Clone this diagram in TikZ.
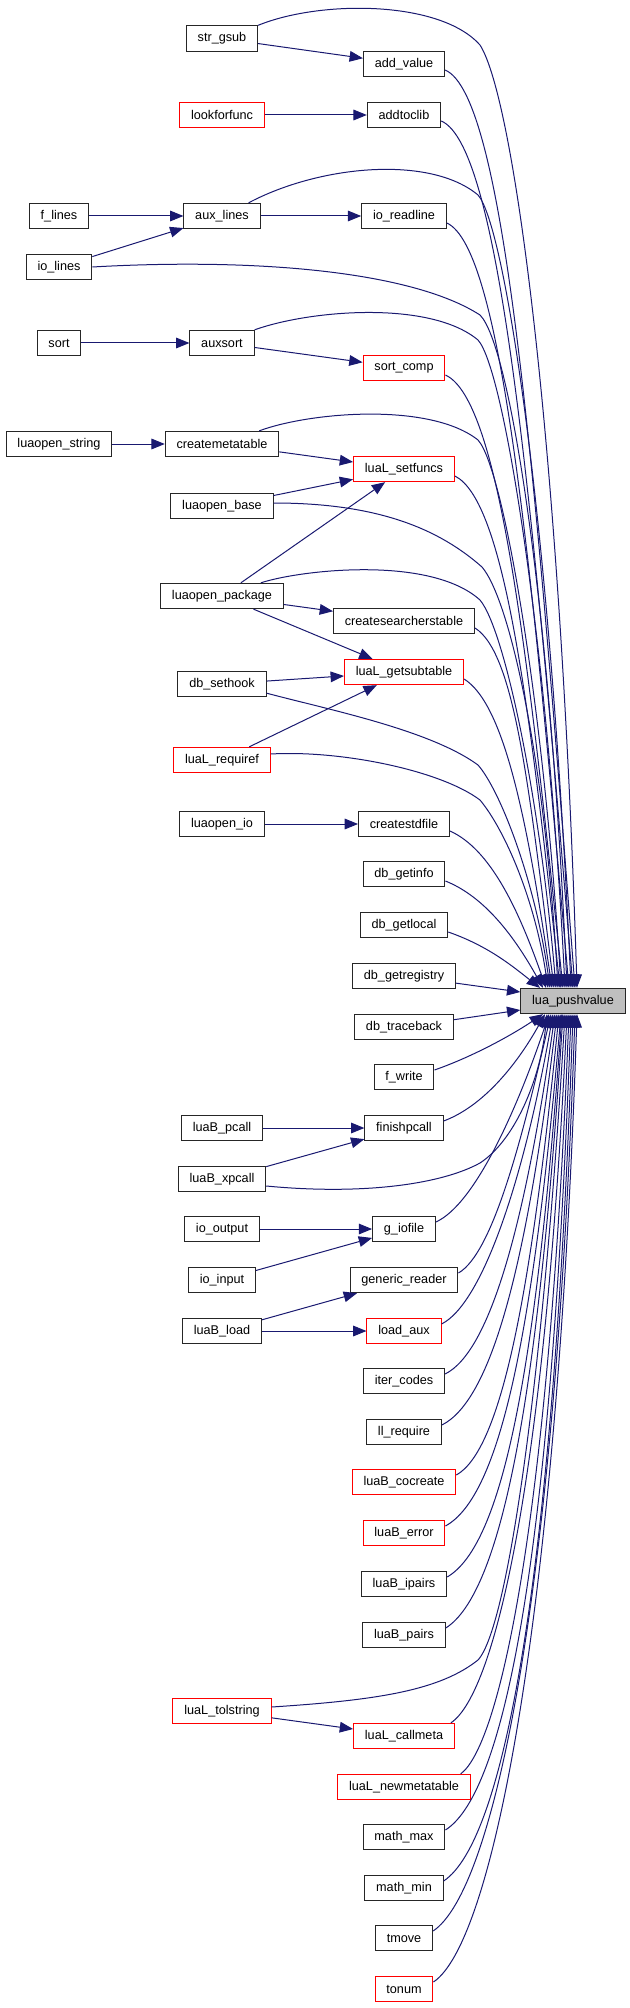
\documentclass[tikz,border=0pt]{standalone}
\usepackage{fontspec}
\setmainfont{Liberation Sans}
\usepackage{tikz}
\usetikzlibrary{arrows.meta,positioning,calc}
\definecolor{edgeblue}{RGB}{25,25,112}
\definecolor{truncred}{RGB}{255,0,0}
\definecolor{focusgray}{RGB}{191,191,191}

\begin{document}
\begin{tikzpicture}[x=0.75pt, y=-0.75pt,
    fn/.style={draw=black!85, line width=0.75pt, minimum height=19pt, inner xsep=8.5pt, inner ysep=0pt, font=\fontsize{9.5}{11}\selectfont},
    trunc/.style={fn, draw=truncred},
    focus/.style={fn, fill=focusgray},
    edge/.style={-{Triangle[length=10pt, width=8pt]}, edgeblue, line width=0.75pt}
]
\useasboundingbox (0,0) rectangle (629,2008);

% callers, left columns
\node[fn] (strgsub) at (222,38.5) {str\_gsub};
\node[fn] (addvalue) at (404,64) {add\_value};
\node[trunc] (lookforfunc) at (222,115) {lookforfunc};
\node[fn] (addtoclib) at (404,115) {addtoclib};
\node[fn] (flines) at (59,216) {f\_lines};
\node[fn] (auxlines) at (222,216) {aux\_lines};
\node[fn] (ioreadline) at (404,216) {io\_readline};
\node[fn] (iolines) at (59,267) {io\_lines};
\node[fn] (sort) at (59,343) {sort};
\node[fn] (auxsort) at (222,343) {auxsort};
\node[trunc] (sortcomp) at (404,368) {sort\_comp};
\node[fn] (openstring) at (59,444) {luaopen\_string};
\node[fn] (createmeta) at (222,444) {createmetatable};
\node[trunc] (setfuncs) at (404,469) {luaL\_setfuncs};
\node[fn] (openbase) at (222,506) {luaopen\_base};
\node[fn] (openpackage) at (222,596) {luaopen\_package};
\node[fn] (searchers) at (404,621) {createsearcherstable};
\node[trunc] (getsubtable) at (404,672) {luaL\_getsubtable};
\node[fn] (sethook) at (222,684) {db\_sethook};
\node[trunc] (requiref) at (222,760) {luaL\_requiref};
\node[fn] (openio) at (222,824) {luaopen\_io};
\node[fn] (stdfile) at (404,824) {createstdfile};
\node[fn] (getinfo) at (404,874) {db\_getinfo};
\node[fn] (getlocal) at (404,925) {db\_getlocal};
\node[fn] (getregistry) at (404,976) {db\_getregistry};
\node[focus] (pushvalue) at (573,1001) {lua\_pushvalue};
\node[fn] (traceback) at (404,1027) {db\_traceback};
\node[fn] (fwrite) at (404,1077) {f\_write};
\node[fn] (pcall) at (222,1128) {luaB\_pcall};
\node[fn] (finishpcall) at (404,1128) {finishpcall};
\node[fn] (xpcall) at (222,1179) {luaB\_xpcall};
\node[fn] (iooutput) at (222,1229) {io\_output};
\node[fn] (iofile) at (404,1229) {g\_iofile};
\node[fn] (ioinput) at (222,1280) {io\_input};
\node[fn] (genreader) at (404,1280) {generic\_reader};
\node[fn] (load) at (222,1331) {luaB\_load};
\node[trunc] (loadaux) at (404,1331) {load\_aux};
\node[fn] (itercodes) at (404,1381) {iter\_codes};
\node[fn] (llrequire) at (404,1432) {ll\_require};
\node[trunc] (cocreate) at (404,1482) {luaB\_cocreate};
\node[trunc] (error) at (404,1533) {luaB\_error};
\node[fn] (ipairs) at (404,1584) {luaB\_ipairs};
\node[fn] (pairs) at (404,1635) {luaB\_pairs};
\node[trunc] (tolstring) at (222,1711) {luaL\_tolstring};
\node[trunc] (callmeta) at (404,1736) {luaL\_callmeta};
\node[trunc] (newmeta) at (404,1787) {luaL\_newmetatable};
\node[fn] (mathmax) at (404,1837) {math\_max};
\node[fn] (mathmin) at (404,1888) {math\_min};
\node[fn] (tmove) at (404,1938) {tmove};
\node[trunc] (tonum) at (404,1989) {tonum};

% short calls between callers
\draw[edge] (strgsub) -- (addvalue);
\draw[edge] (lookforfunc) -- (addtoclib);
\draw[edge] (flines) -- (auxlines);
\draw[edge] (iolines) -- (auxlines);
\draw[edge] (auxlines) -- (ioreadline);
\draw[edge] (sort) -- (auxsort);
\draw[edge] (auxsort) -- (sortcomp);
\draw[edge] (openstring) -- (createmeta);
\draw[edge] (createmeta) -- (setfuncs);
\draw[edge] (openbase) -- (setfuncs);
\draw[edge] (openpackage) -- (setfuncs);
\draw[edge] (openpackage) -- (searchers);
\draw[edge] (openpackage) -- (getsubtable);
\draw[edge] (sethook) -- (getsubtable);
\draw[edge] (requiref) -- (getsubtable);
\draw[edge] (openio) -- (stdfile);
\draw[edge] (pcall) -- (finishpcall);
\draw[edge] (xpcall) -- (finishpcall);
\draw[edge] (iooutput) -- (iofile);
\draw[edge] (ioinput) -- (iofile);
\draw[edge] (load) -- (genreader);
\draw[edge] (load) -- (loadaux);
\draw[edge] (tolstring) -- (callmeta);

% into lua_pushvalue from above
\draw[edge] (strgsub.north east) .. controls (320,0) and (440,0) .. (480,45)
    .. controls (515,100) and (560,450) .. ($(pushvalue.north)+(4,0)$);
\draw[edge] ($(addvalue.east)+(0,6)$) .. controls +(60,25) and +(-40,-520) .. ($(pushvalue.north)+(2,0)$);
\draw[edge] ($(addtoclib.east)+(0,6)$) .. controls +(60,25) and +(-40,-480) .. (pushvalue.north);
\draw[edge] ($(auxlines.north east)+(-12,0)$) .. controls (320,165) and (430,155) .. (478,195)
    .. controls (505,225) and (550,520) .. ($(pushvalue.north)+(-2,0)$);
\draw[edge] ($(ioreadline.east)+(0,7)$) .. controls +(55,25) and +(-38,-430) .. ($(pushvalue.north)+(-4,0)$);
\draw[edge] (iolines.east) .. controls (250,258) and (410,270) .. (480,315)
    .. controls (510,345) and (550,600) .. ($(pushvalue.north)+(-6,0)$);
\draw[edge] (auxsort.north east) .. controls (310,310) and (430,300) .. (478,340)
    .. controls (505,370) and (548,650) .. ($(pushvalue.north)+(-8,0)$);
\draw[edge] ($(sortcomp.east)+(0,7)$) .. controls +(55,25) and +(-35,-330) .. ($(pushvalue.north)+(-10,0)$);
\draw[edge] ($(createmeta.north east)+(-20,0)$) .. controls (310,412) and (430,402) .. (478,440)
    .. controls (505,470) and (545,720) .. ($(pushvalue.north)+(-12,0)$);
\draw[edge] ($(setfuncs.east)+(0,7)$) .. controls +(50,25) and +(-30,-280) .. ($(pushvalue.north)+(-13,0)$);
\draw[edge] ($(openbase.east)+(0,-3)$) .. controls (380,503) and (440,530) .. (482,567)
    .. controls (510,600) and (545,760) .. ($(pushvalue.north)+(-15,0)$);
\draw[edge] ($(openpackage.north east)+(-23,0)$) .. controls (300,570) and (430,555) .. (480,600)
    .. controls (505,630) and (540,800) .. ($(pushvalue.north)+(-17,0)$);
\draw[edge] ($(searchers.east)+(0,7)$) .. controls +(40,25) and +(-25,-200) .. ($(pushvalue.north)+(-19,0)$);
\draw[edge] ($(getsubtable.east)+(0,7)$) .. controls +(40,25) and +(-25,-170) .. ($(pushvalue.north)+(-21,0)$);
\draw[edge] ($(sethook.south east)+(0,-4)$) .. controls (330,710) and (430,730) .. (478,765)
    .. controls (500,790) and (535,880) .. ($(pushvalue.north)+(-23,0)$);
\draw[edge] ($(requiref.east)+(0,-6)$) .. controls (340,750) and (440,770) .. (480,800)
    .. controls (505,830) and (535,900) .. ($(pushvalue.north)+(-25,0)$);
\draw[edge] ($(stdfile.east)+(0,7)$) .. controls +(40,18) and +(-28,-80) .. ($(pushvalue.north)+(-27,0)$);
\draw[edge] ($(getinfo.east)+(0,7)$) .. controls +(40,16) and +(-28,-50) .. ($(pushvalue.north)+(-30,0)$);
\draw[edge] ($(getlocal.east)+(0,7)$) .. controls +(40,14) and +(-28,-22) .. ($(pushvalue.north)+(-33,0)$);

% from the side
\draw[edge] (getregistry) -- ($(pushvalue.west)+(0,-9)$);
\draw[edge] (traceback) -- ($(pushvalue.west)+(0,9)$);

% into lua_pushvalue from below
\draw[edge] ($(fwrite.east)+(0,-7)$) .. controls +(40,-14) and +(-30,20) .. ($(pushvalue.south)+(-30,0)$);
\draw[edge] ($(finishpcall.east)+(0,-7)$) .. controls +(40,-15) and +(-28,50) .. ($(pushvalue.south)+(-28,0)$);
\draw[edge] ($(xpcall.east)+(0,7)$) .. controls (360,1195) and (440,1185) .. (480,1163)
    .. controls (515,1140) and (540,1080) .. ($(pushvalue.south)+(-26,0)$);
\draw[edge] ($(iofile.east)+(0,-7)$) .. controls +(40,-18) and +(-30,90) .. ($(pushvalue.south)+(-24,0)$);
\draw[edge] ($(genreader.east)+(0,-7)$) .. controls +(35,-20) and +(-28,120) .. ($(pushvalue.south)+(-22,0)$);
\draw[edge] ($(loadaux.east)+(0,-7)$) .. controls +(40,-20) and +(-30,170) .. ($(pushvalue.south)+(-20,0)$);
\draw[edge] ($(itercodes.east)+(0,-7)$) .. controls +(45,-22) and +(-30,210) .. ($(pushvalue.south)+(-18,0)$);
\draw[edge] ($(llrequire.east)+(0,-7)$) .. controls +(50,-25) and +(-30,250) .. ($(pushvalue.south)+(-16,0)$);
\draw[edge] ($(cocreate.east)+(0,-7)$) .. controls +(45,-25) and +(-28,280) .. ($(pushvalue.south)+(-14,0)$);
\draw[edge] ($(error.east)+(0,-7)$) .. controls +(55,-30) and +(-28,320) .. ($(pushvalue.south)+(-12,0)$);
\draw[edge] ($(ipairs.east)+(0,-7)$) .. controls +(55,-32) and +(-26,360) .. ($(pushvalue.south)+(-11,0)$);
\draw[edge] ($(pairs.east)+(0,-7)$) .. controls +(55,-35) and +(-25,390) .. ($(pushvalue.south)+(-10,0)$);
\draw[edge] ($(tolstring.east)+(0,-4)$) .. controls (380,1700) and (440,1690) .. (478,1660)
    .. controls (510,1625) and (545,1350) .. ($(pushvalue.south)+(-8,0)$);
\draw[edge] ($(callmeta.north east)+(-4,0)$) .. controls +(45,-30) and +(-22,460) .. ($(pushvalue.south)+(-6,0)$);
\draw[edge] ($(newmeta.north east)+(-10,0)$) .. controls +(40,-30) and +(-20,500) .. ($(pushvalue.south)+(-4,0)$);
\draw[edge] ($(mathmax.east)+(0,-7)$) .. controls +(60,-38) and +(-20,540) .. ($(pushvalue.south)+(-2,0)$);
\draw[edge] ($(mathmin.east)+(0,-7)$) .. controls +(60,-40) and +(-20,570) .. (pushvalue.south);
\draw[edge] ($(tmove.east)+(0,-7)$) .. controls +(60,-40) and +(-20,590) .. ($(pushvalue.south)+(2,0)$);
\draw[edge] ($(tonum.east)+(0,-7)$) .. controls +(60,-40) and +(-20,600) .. ($(pushvalue.south)+(4,0)$);

\end{tikzpicture}
\end{document}
